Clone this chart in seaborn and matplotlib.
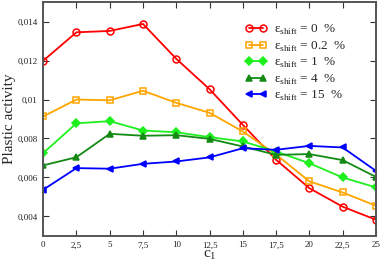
import numpy as np
import pandas as pd
import matplotlib
matplotlib.use("Agg")
import matplotlib.pyplot as plt
import seaborn as sns
from matplotlib.ticker import FuncFormatter, MultipleLocator

c1 = [0, 2.5, 5, 7.5, 10, 12.5, 15, 17.5, 20, 22.5, 25]
shift_0 = [0.01199, 0.01345, 0.01352, 0.01388, 0.01209, 0.01053, 0.00870, 0.00691, 0.00545, 0.00450, 0.00383]
shift_02 = [0.00913, 0.01000, 0.00996, 0.01045, 0.00983, 0.00932, 0.00836, 0.00718, 0.00580, 0.00523, 0.00455]
shift_1 = [0.00725, 0.00878, 0.00889, 0.00841, 0.00832, 0.00807, 0.00785, 0.00733, 0.00673, 0.00600, 0.00549]
shift_4 = [0.00662, 0.00704, 0.00824, 0.00814, 0.00817, 0.00798, 0.00759, 0.00716, 0.00720, 0.00689, 0.00603]
shift_15 = [0.00537, 0.00648, 0.00645, 0.00670, 0.00682, 0.00703, 0.00750, 0.00742, 0.00762, 0.00754, 0.00634]

etiquetas = ["0", "0.2", "1", "4", "15"]
series = [shift_0, shift_02, shift_1, shift_4, shift_15]
cores = ["#ff0000", "#ffa500", "#1ef01e", "#138a13", "#0000ff"]
marcadores = ["o", "s", "D", "^", "<"]
vazios = [True, True, False, False, False]

sns.set_style("ticks")
plt.rcParams["font.family"] = ["Liberation Serif", "DejaVu Serif"]
plt.rcParams["mathtext.fontset"] = "custom"
plt.rcParams["mathtext.rm"] = "Liberation Serif"

fig = plt.figure(figsize=(3.82, 2.63), dpi=100)
ax = fig.add_axes([0.113, 0.103, 0.871, 0.889])

for valores, rot, cor, mk, vazio in zip(series, etiquetas, cores, marcadores, vazios):
    df = pd.DataFrame({"c1": c1, "atividade": valores})
    sns.lineplot(
        data=df, x="c1", y="atividade", ax=ax, color=cor, marker=mk,
        markersize=5 if mk != "D" else 4.3, linewidth=1.3,
        markerfacecolor="none" if vazio else cor, markeredgecolor=cor,
        markeredgewidth=1.1,
        label="ε" + r"$_{\rm shift}$ = " + rot + "  %",
    )

ax.set_xlim(0, 25)
ax.set_ylim(0.003, 0.015)
ax.xaxis.set_major_locator(MultipleLocator(2.5))
ax.yaxis.set_major_locator(MultipleLocator(0.002))
ax.xaxis.set_major_formatter(FuncFormatter(lambda v, p: f"{v:g}".replace(".", ",")))
ax.yaxis.set_major_formatter(FuncFormatter(lambda v, p: f"{v:g}".replace(".", ",")))
ax.tick_params(direction="in", length=4, width=0.8, labelsize=6.5, pad=4,
               top=True, right=True, colors="#333333", labelcolor="#222222")
for s in ax.spines.values():
    s.set_color("#555555")
    s.set_linewidth(1.4)

ax.set_xlabel(r"c$_1$", fontsize=11, labelpad=-1)
ax.set_ylabel("Plastic activity", fontsize=11, labelpad=1)

ax.legend(loc="upper left", bbox_to_anchor=(0.58, 0.95), frameon=False, fontsize=9.5,
          handlelength=1.6, numpoints=2, labelspacing=0.18, handletextpad=0.6,
          borderpad=0.2)

plt.savefig("out.png", dpi=100)
